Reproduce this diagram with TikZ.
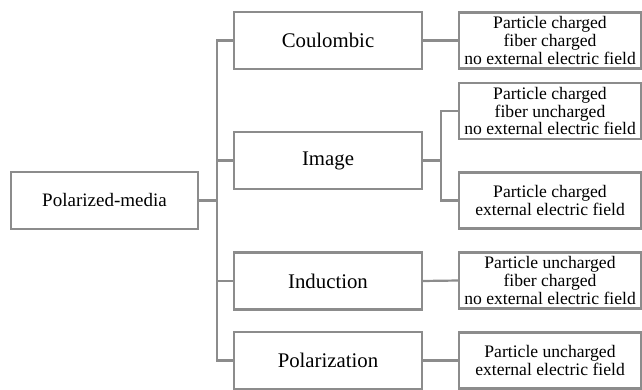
\documentclass[tikz,border=0pt]{standalone}
\usepackage{fontspec}
\setmainfont{Liberation Serif}
\begin{document}
\begin{tikzpicture}[x=1pt,y=-1pt,
  every node/.style={inner sep=0pt, outer sep=0pt},
  frame/.style={draw=linegray, line width=2.2pt, fill=white, align=center},
  rootbox/.style={frame, minimum width=187pt, minimum height=57pt, font=\fontsize{19}{21}\selectfont},
  midbox/.style={frame, minimum width=188pt, minimum height=57pt, font=\fontsize{20.8}{23}\selectfont},
  leafbox/.style={frame, minimum width=182pt, minimum height=56pt, font=\fontsize{17.6}{17.6}\selectfont},
  link/.style={draw=linegray, line width=2.2pt}]
\definecolor{linegray}{RGB}{140,140,140}
\useasboundingbox (0,0) rectangle (642,390);

% root and first level
\node[rootbox] (root) at (104.5,200.5) {Polarized-media};
\node[midbox] (coul) at (328,40.5) {Coulombic};
\node[midbox] (img)  at (328,160.5) {Image};
\node[midbox] (ind)  at (328,281) {Induction};
\node[midbox] (pol)  at (328,360.5) {Polarization};

% leaves
\node[leafbox] (c1) at (550,40.5) {Particle charged\\fiber charged\\no external electric field};
\node[leafbox] (i1) at (550,111) {Particle charged\\fiber uncharged\\no external electric field};
\node[leafbox] (i2) at (550,200.5) {Particle charged\\external electric field};
\node[leafbox] (n1) at (550,280.5) {Particle uncharged\\fiber charged\\no external electric field};
\node[leafbox] (p1) at (550,360.5) {Particle uncharged\\external electric field};

% trunk positions
\coordinate (tk) at (217,0);
\coordinate (itk) at (441,0);

% connectors from the root
\draw[link] (root.east) -- (root.east -| tk);
\draw[link] (coul.west) -- (coul.west -| tk) -- (pol.west -| tk) -- (pol.west);
\draw[link] (img.west) -- (img.west -| tk);
\draw[link] (ind.west) -- (ind.west -| tk);

% connectors to leaves
\draw[link] (coul.east) -- (c1.west);
\draw[link] (img.east) -- (img.east -| itk);
\draw[link] (i1.west) -- (i1.west -| itk) -- (i2.west -| itk) -- (i2.west);
\draw[link] (ind.east) -- (n1.west);
\draw[link] (pol.east) -- (p1.west);
\end{tikzpicture}
\end{document}
